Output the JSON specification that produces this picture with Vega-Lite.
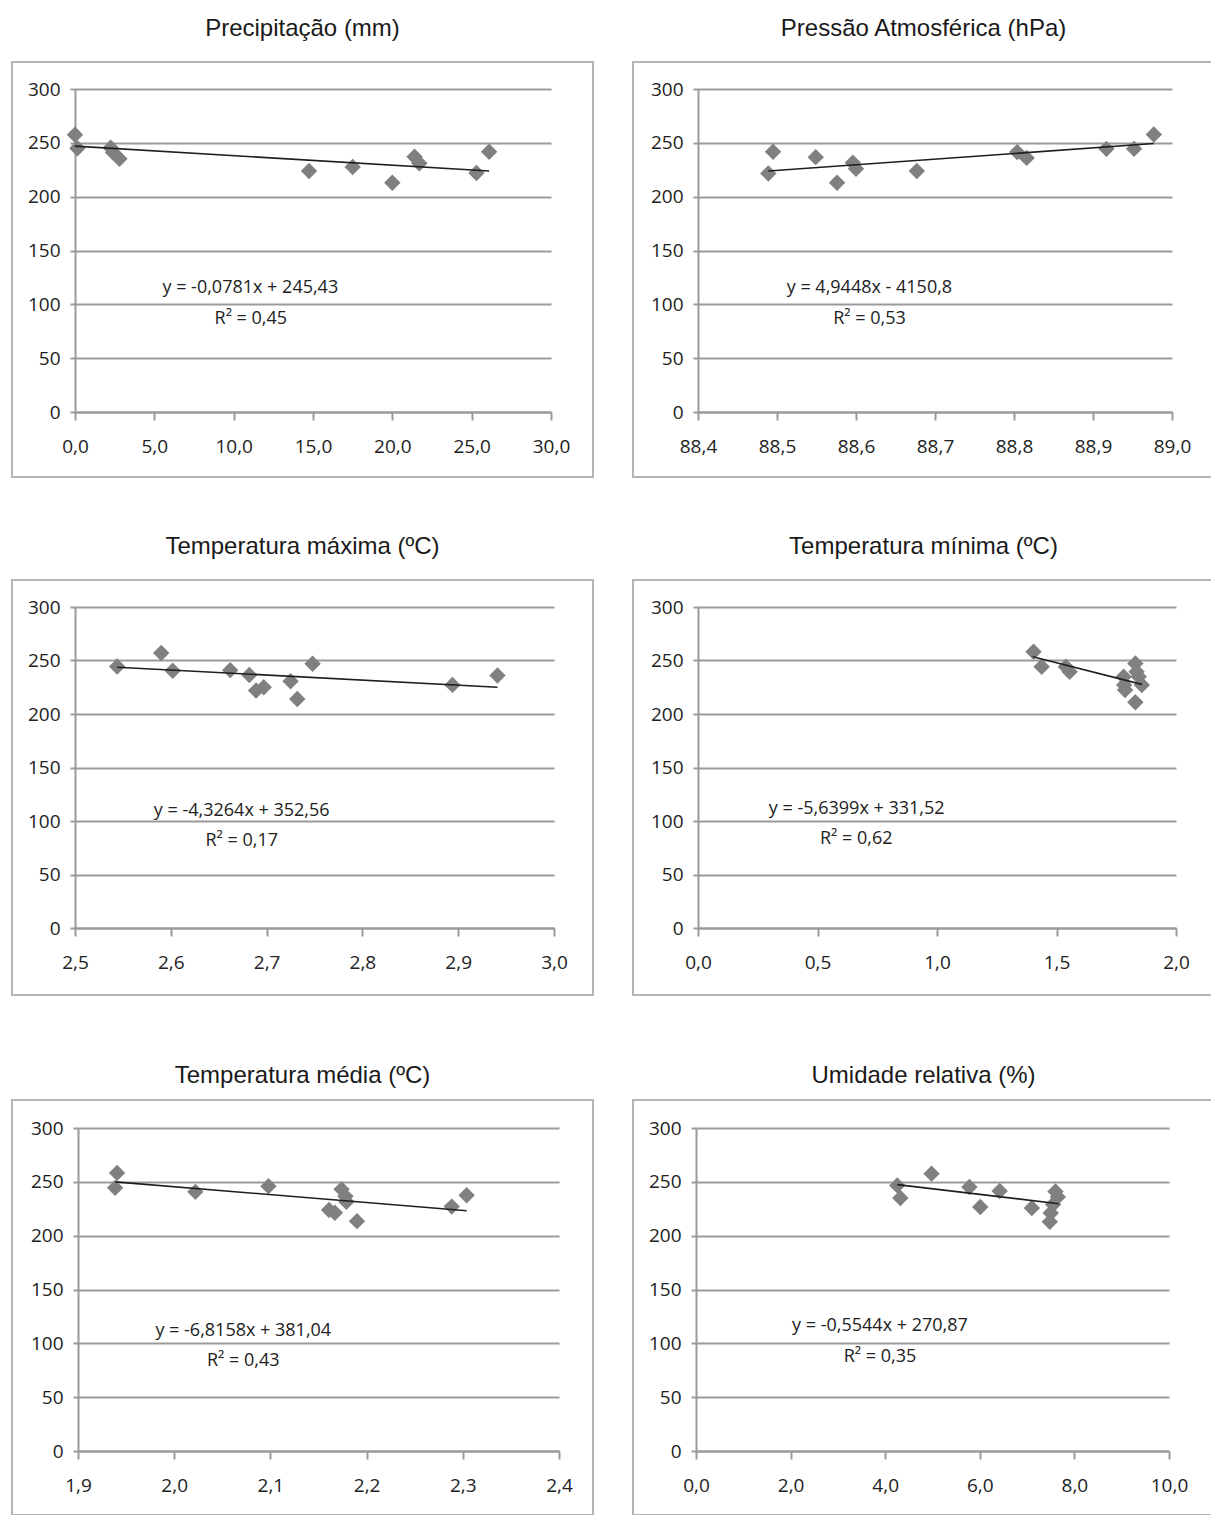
{
"$schema": "https://vega.github.io/schema/vega-lite/v6.json",
"background": "white",
"padding": {"left": 11, "top": 16, "right": 0, "bottom": 0},
"datasets": {
"pts": [
{"p":1,"x":0,"y":257.5},{"p":1,"x":0.15,"y":245},{"p":1,"x":2.25,"y":245.5},{"p":1,"x":2.4,"y":241},{"p":1,"x":2.8,"y":235.2},{"p":1,"x":14.75,"y":223.8},{"p":1,"x":17.5,"y":227.5},{"p":1,"x":20.0,"y":213},{"p":1,"x":21.4,"y":237},{"p":1,"x":21.7,"y":231},{"p":1,"x":25.3,"y":222},{"p":1,"x":26.1,"y":241.7},
{"p":2,"x":88.489,"y":221.6},{"p":2,"x":88.495,"y":241.7},{"p":2,"x":88.549,"y":236.7},{"p":2,"x":88.576,"y":213},{"p":2,"x":88.596,"y":231.5},{"p":2,"x":88.6,"y":226},{"p":2,"x":88.677,"y":223.8},{"p":2,"x":88.804,"y":241.4},{"p":2,"x":88.816,"y":236},{"p":2,"x":88.917,"y":244.4},{"p":2,"x":88.952,"y":244.4},{"p":2,"x":88.977,"y":257.7},
{"p":3,"x":2.544,"y":244.4},{"p":3,"x":2.59,"y":257},{"p":3,"x":2.602,"y":240.5},{"p":3,"x":2.662,"y":241},{"p":3,"x":2.682,"y":236.4},{"p":3,"x":2.689,"y":221.9},{"p":3,"x":2.697,"y":225},{"p":3,"x":2.725,"y":230.6},{"p":3,"x":2.732,"y":214},{"p":3,"x":2.748,"y":247},{"p":3,"x":2.894,"y":227.2},{"p":3,"x":2.941,"y":236},
{"p":4,"x":1.404,"y":258.1},{"p":4,"x":1.438,"y":244.2},{"p":4,"x":1.539,"y":244.2},{"p":4,"x":1.555,"y":239.5},{"p":4,"x":1.781,"y":234.9},{"p":4,"x":1.783,"y":227.1},{"p":4,"x":1.787,"y":222.4},{"p":4,"x":1.83,"y":247.3},{"p":4,"x":1.835,"y":239.5},{"p":4,"x":1.844,"y":234.9},{"p":4,"x":1.857,"y":227.1},{"p":4,"x":1.83,"y":211},
{"p":5,"x":1.9406,"y":258.3},{"p":5,"x":1.9386,"y":244.4},{"p":5,"x":2.022,"y":240.7},{"p":5,"x":2.098,"y":246},{"p":5,"x":2.161,"y":223.8},{"p":5,"x":2.167,"y":221.3},{"p":5,"x":2.174,"y":243},{"p":5,"x":2.178,"y":236.5},{"p":5,"x":2.179,"y":231.5},{"p":5,"x":2.19,"y":213.5},{"p":5,"x":2.2885,"y":227},{"p":5,"x":2.304,"y":237.5},
{"p":6,"x":4.255,"y":246.7},{"p":6,"x":4.32,"y":235},{"p":6,"x":4.98,"y":257.6},{"p":6,"x":5.78,"y":245.2},{"p":6,"x":6.01,"y":226.6},{"p":6,"x":6.42,"y":241.5},{"p":6,"x":7.1,"y":225.7},{"p":6,"x":7.48,"y":213},{"p":6,"x":7.5,"y":221},{"p":6,"x":7.55,"y":229},{"p":6,"x":7.6,"y":241},{"p":6,"x":7.65,"y":236}
],
"trend": [
{"p":1,"x":0,"y":246.9},{"p":1,"x":26.1,"y":223.8},
{"p":2,"x":88.489,"y":223.8},{"p":2,"x":88.977,"y":249.4},
{"p":3,"x":2.544,"y":243.75},{"p":3,"x":2.941,"y":225},
{"p":4,"x":1.401,"y":253.5},{"p":4,"x":1.857,"y":227.7},
{"p":5,"x":1.9386,"y":250},{"p":5,"x":2.304,"y":223.1},
{"p":6,"x":4.255,"y":247.4},{"p":6,"x":7.67,"y":229.7}
],
"eq": [
{"p":1,"x":11.05,"y":114.8,"t":"y = -0,0781x + 245,43"},{"p":1,"x":11.08,"y":86.4,"t":"R² = 0,45"},
{"p":2,"x":88.617,"y":114.8,"t":"y = 4,9448x - 4150,8"},{"p":2,"x":88.617,"y":86.4,"t":"R² = 0,53"},
{"p":3,"x":2.674,"y":109.4,"t":"y = -4,3264x + 352,56"},{"p":3,"x":2.674,"y":81.2,"t":"R² = 0,17"},
{"p":4,"x":0.664,"y":111.4,"t":"y = -5,6399x + 331,52"},{"p":4,"x":0.662,"y":83.5,"t":"R² = 0,62"},
{"p":5,"x":2.0718,"y":111.1,"t":"y = -6,8158x + 381,04"},{"p":5,"x":2.0718,"y":83.3,"t":"R² = 0,43"},
{"p":6,"x":3.889,"y":116.1,"t":"y = -0,5544x + 270,87"},{"p":6,"x":3.889,"y":87.3,"t":"R² = 0,35"}
]
},
"spacing": 56,
"vconcat": [
{"hconcat": [
{"width": 581, "height": 415, "title": {"text": "Precipitação (mm)"},
 "encoding": {
  "x": {"field": "x", "type": "quantitative", "title": null, "scale": {"domain": [0, 30], "range": [63, 539], "nice": false, "zero": false}, "axis": {"values": [0,5,10,15,20,25,30], "offset": -65, "labelExpr": "replace(format(datum.value, '.1f'), '.', ',')"}},
  "y": {"field": "y", "type": "quantitative", "title": null, "scale": {"domain": [0, 300], "range": [350, 27], "nice": false, "zero": false}, "axis": {"values": [0,50,100,150,200,250,300], "offset": -63}}
 },
 "layer": [
  {"data": {"name": "pts"}, "transform": [{"filter": "datum.p == 1"}], "mark": {"type": "point", "shape": "diamond", "filled": true, "size": 270, "color": "#808080", "opacity": 1}},
  {"data": {"name": "trend"}, "transform": [{"filter": "datum.p == 1"}], "mark": {"type": "line", "color": "#1e1e1e", "strokeWidth": 1.6}},
  {"data": {"name": "eq"}, "transform": [{"filter": "datum.p == 1"}], "mark": {"type": "text", "font": "Open Sans", "fontSize": 18, "color": "#222222"}, "encoding": {"text": {"field": "t"}}}
 ]},
{"width": 581, "height": 415, "title": {"text": "Pressão Atmosférica (hPa)"},
 "encoding": {
  "x": {"field": "x", "type": "quantitative", "title": null, "scale": {"domain": [88.4, 89.0], "range": [65, 539], "nice": false, "zero": false}, "axis": {"values": [88.4,88.5,88.6,88.7,88.8,88.9,89.0], "offset": -65, "labelExpr": "replace(format(datum.value, '.1f'), '.', ',')"}},
  "y": {"field": "y", "type": "quantitative", "title": null, "scale": {"domain": [0, 300], "range": [350, 27], "nice": false, "zero": false}, "axis": {"values": [0,50,100,150,200,250,300], "offset": -65}}
 },
 "layer": [
  {"data": {"name": "pts"}, "transform": [{"filter": "datum.p == 2"}], "mark": {"type": "point", "shape": "diamond", "filled": true, "size": 270, "color": "#808080", "opacity": 1}},
  {"data": {"name": "trend"}, "transform": [{"filter": "datum.p == 2"}], "mark": {"type": "line", "color": "#1e1e1e", "strokeWidth": 1.6}},
  {"data": {"name": "eq"}, "transform": [{"filter": "datum.p == 2"}], "mark": {"type": "text", "font": "Open Sans", "fontSize": 18, "color": "#222222"}, "encoding": {"text": {"field": "t"}}}
 ]}
], "spacing": 38},
{"spacing": 67, "vconcat": [
{"hconcat": [
{"width": 581, "height": 415, "title": {"text": "Temperatura máxima (ºC)"},
 "encoding": {
  "x": {"field": "x", "type": "quantitative", "title": null, "scale": {"domain": [2.5, 3.0], "range": [63, 542], "nice": false, "zero": false}, "axis": {"values": [2.5,2.6,2.7,2.8,2.9,3.0], "offset": -67, "labelExpr": "replace(format(datum.value, '.1f'), '.', ',')"}},
  "y": {"field": "y", "type": "quantitative", "title": null, "scale": {"domain": [0, 300], "range": [348, 27], "nice": false, "zero": false}, "axis": {"values": [0,50,100,150,200,250,300], "offset": -63}}
 },
 "layer": [
  {"data": {"name": "pts"}, "transform": [{"filter": "datum.p == 3"}], "mark": {"type": "point", "shape": "diamond", "filled": true, "size": 270, "color": "#808080", "opacity": 1}},
  {"data": {"name": "trend"}, "transform": [{"filter": "datum.p == 3"}], "mark": {"type": "line", "color": "#1e1e1e", "strokeWidth": 1.6}},
  {"data": {"name": "eq"}, "transform": [{"filter": "datum.p == 3"}], "mark": {"type": "text", "font": "Open Sans", "fontSize": 18, "color": "#222222"}, "encoding": {"text": {"field": "t"}}}
 ]},
{"width": 581, "height": 415, "title": {"text": "Temperatura mínima (ºC)"},
 "encoding": {
  "x": {"field": "x", "type": "quantitative", "title": null, "scale": {"domain": [0, 2.0], "range": [65, 543], "nice": false, "zero": false}, "axis": {"values": [0,0.5,1.0,1.5,2.0], "offset": -67, "labelExpr": "replace(format(datum.value, '.1f'), '.', ',')"}},
  "y": {"field": "y", "type": "quantitative", "title": null, "scale": {"domain": [0, 300], "range": [348, 27], "nice": false, "zero": false}, "axis": {"values": [0,50,100,150,200,250,300], "offset": -65}}
 },
 "layer": [
  {"data": {"name": "pts"}, "transform": [{"filter": "datum.p == 4"}], "mark": {"type": "point", "shape": "diamond", "filled": true, "size": 270, "color": "#808080", "opacity": 1}},
  {"data": {"name": "trend"}, "transform": [{"filter": "datum.p == 4"}], "mark": {"type": "line", "color": "#1e1e1e", "strokeWidth": 1.6}},
  {"data": {"name": "eq"}, "transform": [{"filter": "datum.p == 4"}], "mark": {"type": "text", "font": "Open Sans", "fontSize": 18, "color": "#222222"}, "encoding": {"text": {"field": "t"}}}
 ]}
], "spacing": 38},
{"hconcat": [
{"width": 581, "height": 415, "title": {"text": "Temperatura média (ºC)", "offset": 12},
 "encoding": {
  "x": {"field": "x", "type": "quantitative", "title": null, "scale": {"domain": [1.9, 2.4], "range": [66, 547], "nice": false, "zero": false}, "axis": {"values": [1.9,2.0,2.1,2.2,2.3,2.4], "offset": -64, "labelExpr": "replace(format(datum.value, '.1f'), '.', ',')"}},
  "y": {"field": "y", "type": "quantitative", "title": null, "scale": {"domain": [0, 300], "range": [351, 28], "nice": false, "zero": false}, "axis": {"values": [0,50,100,150,200,250,300], "offset": -66}}
 },
 "layer": [
  {"data": {"name": "pts"}, "transform": [{"filter": "datum.p == 5"}], "mark": {"type": "point", "shape": "diamond", "filled": true, "size": 270, "color": "#808080", "opacity": 1}},
  {"data": {"name": "trend"}, "transform": [{"filter": "datum.p == 5"}], "mark": {"type": "line", "color": "#1e1e1e", "strokeWidth": 1.6}},
  {"data": {"name": "eq"}, "transform": [{"filter": "datum.p == 5"}], "mark": {"type": "text", "font": "Open Sans", "fontSize": 18, "color": "#222222"}, "encoding": {"text": {"field": "t"}}}
 ]},
{"width": 581, "height": 415, "title": {"text": "Umidade relativa (%)", "offset": 12},
 "encoding": {
  "x": {"field": "x", "type": "quantitative", "title": null, "scale": {"domain": [0, 10], "range": [63, 536], "nice": false, "zero": false}, "axis": {"values": [0,2,4,6,8,10], "offset": -64, "labelExpr": "replace(format(datum.value, '.1f'), '.', ',')"}},
  "y": {"field": "y", "type": "quantitative", "title": null, "scale": {"domain": [0, 300], "range": [351, 28], "nice": false, "zero": false}, "axis": {"values": [0,50,100,150,200,250,300], "offset": -63}}
 },
 "layer": [
  {"data": {"name": "pts"}, "transform": [{"filter": "datum.p == 6"}], "mark": {"type": "point", "shape": "diamond", "filled": true, "size": 270, "color": "#808080", "opacity": 1}},
  {"data": {"name": "trend"}, "transform": [{"filter": "datum.p == 6"}], "mark": {"type": "line", "color": "#1e1e1e", "strokeWidth": 1.6}},
  {"data": {"name": "eq"}, "transform": [{"filter": "datum.p == 6"}], "mark": {"type": "text", "font": "Open Sans", "fontSize": 18, "color": "#222222"}, "encoding": {"text": {"field": "t"}}}
 ]}
], "spacing": 38}
]}
],
"config": {
 "view": {"stroke": "#b4b4b4", "strokeWidth": 2},
 "title": {"font": "Liberation Sans", "fontSize": 24, "fontWeight": "normal", "color": "#1a1a1a", "baseline": "alphabetic", "offset": 21, "anchor": "middle"},
 "axis": {"labelFont": "Open Sans", "labelFontSize": 19, "labelColor": "#222222", "domainColor": "#9a9a9a", "domainWidth": 2, "tickColor": "#9a9a9a", "tickWidth": 2, "gridColor": "#9a9a9a", "gridWidth": 2, "gridOpacity": 1, "labelOverlap": false, "labelFlush": false},
 "axisX": {"grid": false, "tickSize": 8, "labelPadding": 17},
 "axisY": {"grid": true, "tickSize": 5, "labelPadding": 10}
}
}
